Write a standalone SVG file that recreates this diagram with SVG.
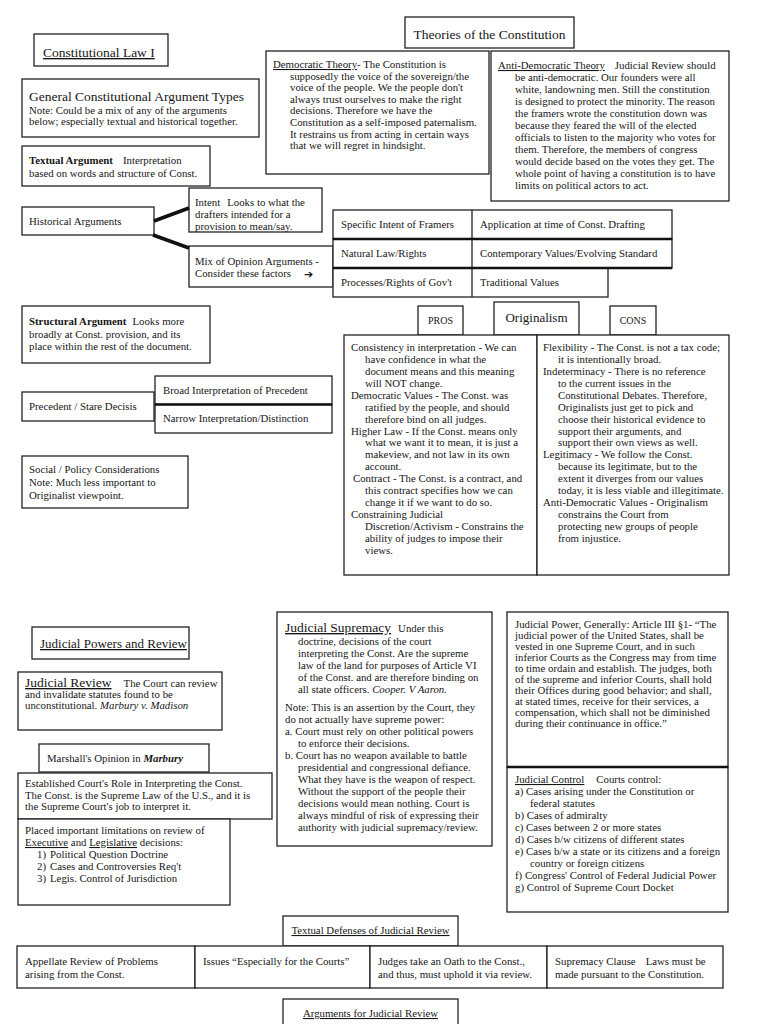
<svg xmlns="http://www.w3.org/2000/svg" width="768" height="1024" viewBox="0 0 768 1024">
<style>
rect.b{fill:#fff;stroke:#222;stroke-width:1.3}
text{font-family:"Liberation Serif","Times New Roman",serif;font-size:10.8px;fill:#161616}
.h{font-size:13.5px}
.u{text-decoration:underline}
.i{font-style:italic}
.bd{font-weight:bold}
.c{text-anchor:middle}
.thick{stroke:#111;stroke-width:2.5}
.thin{stroke:#222;stroke-width:1.3}
.conn{stroke:#111;stroke-width:3.5;fill:none}
.arr{font-family:"DejaVu Sans",sans-serif;font-size:11px;font-weight:bold}
</style>
<rect width="768" height="1024" fill="#fff"/>

<g id="title-conlaw">
<rect class="b" x="34" y="34" width="134" height="32"/>
<text x="43" y="57" class="h u">Constitutional Law I</text>
</g>

<g id="general-types">
<rect class="b" x="22" y="79" width="237" height="58"/>
<text x="29" y="101" class="h">General Constitutional Argument Types</text>
<text x="29" y="114">Note: Could be a mix of any of the arguments</text>
<text x="29" y="125">below; especially textual and historical together.</text>
</g>

<g id="textual-argument">
<rect class="b" x="22" y="146" width="188" height="40"/>
<text x="29" y="164"><tspan class="bd">Textual Argument</tspan><tspan dx="10">Interpretation</tspan></text>
<text x="29" y="177">based on words and structure of Const.</text>
</g>

<g id="theories">
<rect class="b" x="405" y="17" width="169" height="31"/>
<text x="489.5" y="39" class="h c">Theories of the Constitution</text>
</g>

<g id="democratic-theory">
<rect class="b" x="266" y="51" width="223" height="123"/>
<text x="273" y="68"><tspan class="u">Democratic Theory</tspan>- The Constitution is</text>
<text x="290" y="79.6">supposedly the voice of the sovereign/the</text>
<text x="290" y="91.2">voice of the people. We the people don't</text>
<text x="290" y="102.8">always trust ourselves to make the right</text>
<text x="290" y="114.4">decisions. Therefore we have the</text>
<text x="290" y="126">Constitution as a self-imposed paternalism.</text>
<text x="290" y="137.6">It restrains us from acting in certain ways</text>
<text x="290" y="149.2">that we will regret in hindsight.</text>
</g>

<g id="anti-democratic-theory">
<rect class="b" x="491" y="51" width="238" height="150"/>
<text x="498" y="69"><tspan class="u">Anti-Democratic Theory</tspan><tspan dx="10">Judicial Review should</tspan></text>
<text x="515" y="81">be anti-democratic. Our founders were all</text>
<text x="515" y="93">white, landowning men. Still the constitution</text>
<text x="515" y="105">is designed to protect the minority. The reason</text>
<text x="515" y="117">the framers wrote the constitution down was</text>
<text x="515" y="129">because they feared the will of the elected</text>
<text x="515" y="141">officials to listen to the majority who votes for</text>
<text x="515" y="153">them. Therefore, the members of congress</text>
<text x="515" y="165">would decide based on the votes they get. The</text>
<text x="515" y="177">whole point of having a constitution is to have</text>
<text x="515" y="189">limits on political actors to act.</text>
</g>

<g id="historical">
<rect class="b" x="22" y="207" width="132" height="28"/>
<text x="29" y="225">Historical Arguments</text>
</g>

<g id="intent">
<rect class="b" x="189" y="188" width="133" height="44"/>
<text x="195" y="206">Intent<tspan dx="7">Looks to what the</tspan></text>
<text x="195" y="218">drafters intended for a</text>
<text x="195" y="229.5">provision to mean/say.</text>
</g>

<g id="mix-opinion">
<rect class="b" x="189" y="246" width="144" height="41"/>
<text x="195" y="265">Mix of Opinion Arguments -</text>
<text x="195" y="277">Consider these factors</text>
<text x="304" y="278" class="arr">➔</text>
</g>

<g id="factors-table">
<rect class="b" x="333" y="210" width="339" height="29"/>
<rect class="b" x="333" y="239" width="339" height="29"/>
<rect class="b" x="333" y="268" width="275" height="29"/>
<line class="thin" x1="472" y1="210" x2="472" y2="297"/>
<line class="thick" x1="333" y1="239" x2="672" y2="239"/>
<line class="thick" x1="333" y1="268" x2="672" y2="268"/>
<text x="341" y="228">Specific Intent of Framers</text>
<text x="480" y="228">Application at time of Const. Drafting</text>
<text x="341" y="257">Natural Law/Rights</text>
<text x="480" y="257">Contemporary Values/Evolving Standard</text>
<text x="341" y="286">Processes/Rights of Gov't</text>
<text x="480" y="286">Traditional Values</text>
</g>

<g id="structural">
<rect class="b" x="22" y="306" width="188" height="57"/>
<text x="29" y="325"><tspan class="bd">Structural Argument</tspan><tspan dx="6">Looks more</tspan></text>
<text x="29" y="337.5">broadly at Const. provision, and its</text>
<text x="29" y="350">place within the rest of the document.</text>
</g>

<g id="precedent">
<rect class="b" x="22" y="392" width="132" height="29"/>
<text x="29" y="410">Precedent / Stare Decisis</text>
</g>

<g id="broad">
<rect class="b" x="155" y="376" width="177" height="28.5"/>
<text x="163" y="394">Broad Interpretation of Precedent</text>
</g>

<g id="narrow">
<rect class="b" x="155" y="404.5" width="177" height="28.5"/>
<text x="163" y="422">Narrow Interpretation/Distinction</text>
</g>

<g id="social">
<rect class="b" x="22" y="456" width="166" height="52"/>
<text x="29" y="473">Social / Policy Considerations</text>
<text x="29" y="486">Note: Much less important to</text>
<text x="29" y="499">Originalist viewpoint.</text>
</g>

<g id="pros-label">
<rect class="b" x="418" y="306" width="45" height="29"/>
<text x="440.5" y="324" class="c" style="font-size:10px">PROS</text>
</g>

<g id="originalism">
<rect class="b" x="494" y="302" width="85" height="33"/>
<text x="536.5" y="322" class="c" style="font-size:13px">Originalism</text>
</g>

<g id="cons-label">
<rect class="b" x="610" y="306" width="46" height="29"/>
<text x="633" y="324" class="c" style="font-size:10px">CONS</text>
</g>

<g id="pros">
<rect class="b" x="344" y="335" width="193" height="240"/>
<text x="351" y="351">Consistency in interpretation - We can</text>
<text x="365" y="363">have confidence in what the</text>
<text x="365" y="375">document means and this meaning</text>
<text x="365" y="387">will NOT change.</text>
<text x="351" y="399">Democratic Values - The Const. was</text>
<text x="365" y="410.5">ratified by the people, and should</text>
<text x="365" y="422.5">therefore bind on all judges.</text>
<text x="351" y="434.5">Higher Law - If the Const. means only</text>
<text x="365" y="446">what we want it to mean, it is just a</text>
<text x="365" y="458">makeview, and not law in its own</text>
<text x="365" y="470">account.</text>
<text x="353" y="482">Contract - The Const. is a contract, and</text>
<text x="365" y="494">this contract specifies how we can</text>
<text x="365" y="506">change it if we want to do so.</text>
<text x="351" y="518">Constraining Judicial</text>
<text x="365" y="529.5">Discretion/Activism - Constrains the</text>
<text x="365" y="541.5">ability of judges to impose their</text>
<text x="365" y="553.5">views.</text>
</g>

<g id="cons">
<rect class="b" x="537" y="335" width="192" height="240"/>
<text x="543" y="351">Flexibility - The Const. is not a tax code;</text>
<text x="558" y="363">it is intentionally broad.</text>
<text x="543" y="375">Indeterminacy - There is no reference</text>
<text x="558" y="387">to the current issues in the</text>
<text x="558" y="399">Constitutional Debates. Therefore,</text>
<text x="558" y="410.5">Originalists just get to pick and</text>
<text x="558" y="422.5">choose their historical evidence to</text>
<text x="558" y="434.5">support their arguments, and</text>
<text x="558" y="446">support their own views as well.</text>
<text x="543" y="458">Legitimacy - We follow the Const.</text>
<text x="558" y="470">because its legitimate, but to the</text>
<text x="558" y="482">extent it diverges from our values</text>
<text x="558" y="494">today, it is less viable and illegitimate.</text>
<text x="543" y="506">Anti-Democratic Values - Originalism</text>
<text x="558" y="518">constrains the Court from</text>
<text x="558" y="529.5">protecting new groups of people</text>
<text x="558" y="541.5">from injustice.</text>
</g>

<g id="judicial-powers-title">
<rect class="b" x="32" y="627" width="157" height="32"/>
<text x="40" y="648" class="u" style="font-size:13px">Judicial Powers and Review</text>
</g>

<g id="judicial-review">
<rect class="b" x="18" y="672" width="204" height="58"/>
<text x="25" y="687"><tspan class="h u">Judicial Review</tspan><tspan dx="12">The Court can review</tspan></text>
<text x="25" y="698">and invalidate statutes found to be</text>
<text x="25" y="709">unconstitutional. <tspan class="i">Marbury v. Madison</tspan></text>
</g>

<g id="marshall">
<rect class="b" x="39" y="744" width="170" height="28"/>
<text x="47" y="762">Marshall's Opinion in <tspan class="bd i">Marbury</tspan></text>
</g>

<g id="established">
<rect class="b" x="18" y="773" width="254" height="46"/>
<text x="25" y="787">Established Court's Role in Interpreting the Const.</text>
<text x="25" y="798.5">The Const. is the  Supreme Law of the U.S., and it is</text>
<text x="25" y="810">the Supreme Court's job to interpret it.</text>
</g>

<g id="limitations">
<rect class="b" x="18" y="819" width="212" height="86"/>
<text x="25" y="834">Placed important limitations on review of</text>
<text x="25" y="846"><tspan class="u">Executive</tspan> and <tspan class="u">Legislative</tspan> decisions:</text>
<text x="37" y="858">1)</text><text x="50" y="858">Political Question Doctrine</text>
<text x="37" y="870">2)</text><text x="50" y="870">Cases and Controversies Req't</text>
<text x="37" y="882">3)</text><text x="50" y="882">Legis. Control of Jurisdiction</text>
</g>

<g id="judicial-supremacy">
<rect class="b" x="277" y="612" width="215" height="234"/>
<text x="285" y="632"><tspan class="h u">Judicial Supremacy</tspan><tspan dx="7">Under this</tspan></text>
<text x="298" y="645">doctrine, decisions of the court</text>
<text x="298" y="657">interpreting the Const. Are the supreme</text>
<text x="298" y="669">law of the land for purposes of Article VI</text>
<text x="298" y="681">of the Const. and are therefore binding on</text>
<text x="298" y="693">all state officers. <tspan class="i">Cooper. V Aaron.</tspan></text>
<text x="285" y="711">Note: This is an assertion by the Court, they</text>
<text x="285" y="723">do not actually have supreme power:</text>
<text x="285" y="735">a. Court must rely on other political powers</text>
<text x="298" y="747">to enforce their decisions.</text>
<text x="285" y="759">b. Court has no weapon available to battle</text>
<text x="298" y="771">presidential and congressional defiance.</text>
<text x="298" y="783">What they have is the weapon of respect.</text>
<text x="298" y="795">Without the support of the people their</text>
<text x="298" y="807">decisions would mean nothing. Court is</text>
<text x="298" y="819">always mindful of risk of expressing their</text>
<text x="298" y="831">authority with judicial supremacy/review.</text>
</g>

<g id="judicial-power">
<rect class="b" x="507" y="612" width="221" height="155"/>
<text x="515" y="628">Judicial Power, Generally: Article III §1- “The</text>
<text x="515" y="639">judicial power of the United States, shall be</text>
<text x="515" y="650">vested in one Supreme Court, and in such</text>
<text x="515" y="661">inferior Courts as the Congress may from time</text>
<text x="515" y="672">to time ordain and establish. The judges, both</text>
<text x="515" y="683">of the supreme and inferior Courts, shall hold</text>
<text x="515" y="694">their Offices during good behavior; and shall,</text>
<text x="515" y="705">at stated times, receive for their services, a</text>
<text x="515" y="716">compensation, which shall not be diminished</text>
<text x="515" y="727">during their continuance in office.”</text>
</g>

<g id="judicial-control">
<rect class="b" x="507" y="767" width="221" height="145"/>
<line class="thick" x1="507" y1="767" x2="728" y2="767"/>
<text x="515" y="783"><tspan class="u">Judicial Control</tspan><tspan dx="12">Courts control:</tspan></text>
<text x="515" y="795">a) Cases arising under the Constitution or</text>
<text x="530" y="807">federal statutes</text>
<text x="515" y="819">b) Cases of admiralty</text>
<text x="515" y="831">c) Cases between 2 or more states</text>
<text x="515" y="843">d) Cases b/w citizens of different states</text>
<text x="515" y="855">e) Cases b/w a state or its citizens and a foreign</text>
<text x="530" y="867">country or foreign citizens</text>
<text x="515" y="879">f) Congress' Control of Federal Judicial Power</text>
<text x="515" y="891">g) Control of Supreme Court Docket</text>
</g>

<g id="textual-defenses">
<rect class="b" x="283" y="916" width="175" height="30"/>
<text x="370.5" y="934" class="c u">Textual Defenses of Judicial Review</text>
</g>

<g id="appellate">
<rect class="b" x="17" y="946" width="178" height="42"/>
<text x="25" y="965">Appellate Review of Problems</text>
<text x="25" y="978">arising from the Const.</text>
</g>

<g id="issues">
<rect class="b" x="195" y="946" width="175" height="42"/>
<text x="203" y="965">Issues “Especially for the Courts”</text>
</g>

<g id="oath">
<rect class="b" x="370" y="946" width="177" height="42"/>
<text x="378" y="965">Judges take an Oath to the Const.,</text>
<text x="378" y="978">and thus, must uphold it via review.</text>
</g>

<g id="supremacy-clause">
<rect class="b" x="547" y="946" width="176" height="42"/>
<text x="555" y="965">Supremacy Clause<tspan dx="10">Laws must be</tspan></text>
<text x="555" y="978">made pursuant to the Constitution.</text>
</g>

<g id="arguments-jr">
<rect class="b" x="283" y="999" width="175" height="40"/>
<text x="370.5" y="1017" class="c u">Arguments for Judicial Review</text>
</g>

<g id="connectors">
<line class="conn" x1="154" y1="221" x2="189" y2="208"/>
<line class="conn" x1="153" y1="235" x2="189" y2="248"/>
<line class="thick" x1="155" y1="404.5" x2="332" y2="404.5"/>
</g>
</svg>
